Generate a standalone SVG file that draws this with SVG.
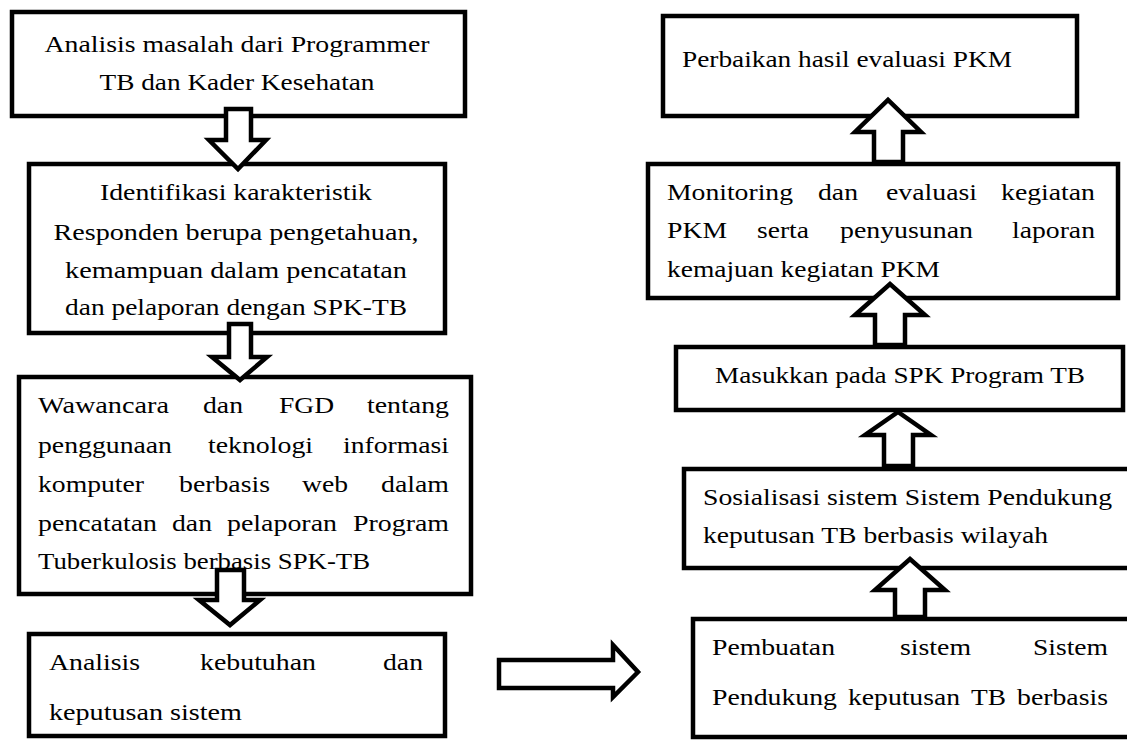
<svg xmlns="http://www.w3.org/2000/svg" width="1127" height="740" viewBox="0 0 1127 740">
<style>
.box{fill:#fff;stroke:#000;stroke-width:4.5}
.arr{fill:#fff;stroke:#000;stroke-width:4.5;stroke-linejoin:miter}
text{font-family:"Liberation Serif","Times New Roman",serif;font-size:24px;fill:#000}
.c{text-anchor:middle}
</style>
<rect width="1127" height="740" fill="#fff"/>
<g id="n1"><rect class="box" x="12" y="12" width="453" height="104"/>
<text class="c" x="237" y="52" textLength="385" lengthAdjust="spacingAndGlyphs">Analisis masalah dari Programmer</text>
<text class="c" x="237" y="90" textLength="275" lengthAdjust="spacingAndGlyphs">TB dan Kader Kesehatan</text></g>
<g id="n2"><rect class="box" x="29" y="164" width="416" height="169"/>
<text class="c" x="236" y="200" textLength="272" lengthAdjust="spacingAndGlyphs">Identifikasi karakteristik</text>
<text class="c" x="236" y="240" textLength="365" lengthAdjust="spacingAndGlyphs">Responden berupa pengetahuan,</text>
<text class="c" x="236" y="278" textLength="342" lengthAdjust="spacingAndGlyphs">kemampuan dalam pencatatan</text>
<text class="c" x="236" y="315" textLength="342" lengthAdjust="spacingAndGlyphs">dan pelaporan dengan SPK-TB</text></g>
<g id="n3"><rect class="box" x="19" y="377" width="452" height="217"/>
<text x="38" y="413" textLength="131" lengthAdjust="spacingAndGlyphs">Wawancara</text>
<text x="203" y="413" textLength="40" lengthAdjust="spacingAndGlyphs">dan</text>
<text x="279" y="413" textLength="55" lengthAdjust="spacingAndGlyphs">FGD</text>
<text x="367" y="413" textLength="82" lengthAdjust="spacingAndGlyphs">tentang</text>
<text x="38" y="453" textLength="134" lengthAdjust="spacingAndGlyphs">penggunaan</text>
<text x="208" y="453" textLength="105" lengthAdjust="spacingAndGlyphs">teknologi</text>
<text x="343" y="453" textLength="106" lengthAdjust="spacingAndGlyphs">informasi</text>
<text x="38" y="492" textLength="106" lengthAdjust="spacingAndGlyphs">komputer</text>
<text x="179" y="492" textLength="91" lengthAdjust="spacingAndGlyphs">berbasis</text>
<text x="302" y="492" textLength="46" lengthAdjust="spacingAndGlyphs">web</text>
<text x="381" y="492" textLength="68" lengthAdjust="spacingAndGlyphs">dalam</text>
<text x="38" y="531" textLength="119" lengthAdjust="spacingAndGlyphs">pencatatan</text>
<text x="172" y="531" textLength="40" lengthAdjust="spacingAndGlyphs">dan</text>
<text x="227" y="531" textLength="110" lengthAdjust="spacingAndGlyphs">pelaporan</text>
<text x="353" y="531" textLength="96" lengthAdjust="spacingAndGlyphs">Program</text>
<text x="38" y="569" textLength="332" lengthAdjust="spacingAndGlyphs">Tuberkulosis berbasis SPK-TB</text></g>
<g id="n4"><rect class="box" x="29" y="634" width="416" height="102"/>
<text x="49" y="670" textLength="91" lengthAdjust="spacingAndGlyphs">Analisis</text>
<text x="200" y="670" textLength="116" lengthAdjust="spacingAndGlyphs">kebutuhan</text>
<text x="383" y="670" textLength="40" lengthAdjust="spacingAndGlyphs">dan</text>
<text x="49" y="720" textLength="193" lengthAdjust="spacingAndGlyphs">keputusan sistem</text></g>
<g id="r1"><rect class="box" x="663" y="16" width="414" height="100"/>
<text x="682" y="67" textLength="330" lengthAdjust="spacingAndGlyphs">Perbaikan hasil evaluasi PKM</text></g>
<g id="r2"><rect class="box" x="648" y="164" width="470" height="134"/>
<text x="667" y="200" textLength="126" lengthAdjust="spacingAndGlyphs">Monitoring</text>
<text x="818" y="200" textLength="40" lengthAdjust="spacingAndGlyphs">dan</text>
<text x="886" y="200" textLength="91" lengthAdjust="spacingAndGlyphs">evaluasi</text>
<text x="1001" y="200" textLength="94" lengthAdjust="spacingAndGlyphs">kegiatan</text>
<text x="667" y="238" textLength="60" lengthAdjust="spacingAndGlyphs">PKM</text>
<text x="757" y="238" textLength="52" lengthAdjust="spacingAndGlyphs">serta</text>
<text x="840" y="238" textLength="133" lengthAdjust="spacingAndGlyphs">penyusunan</text>
<text x="1012" y="238" textLength="83" lengthAdjust="spacingAndGlyphs">laporan</text>
<text x="667" y="277" textLength="273" lengthAdjust="spacingAndGlyphs">kemajuan kegiatan PKM</text></g>
<g id="r3"><rect class="box" x="676" y="347" width="447" height="63"/>
<text x="715" y="383" textLength="370" lengthAdjust="spacingAndGlyphs">Masukkan pada SPK Program TB</text></g>
<g id="r4"><rect class="box" x="684" y="469" width="460" height="99"/>
<text x="703" y="505" textLength="409" lengthAdjust="spacingAndGlyphs">Sosialisasi sistem Sistem Pendukung</text>
<text x="703" y="543" textLength="345" lengthAdjust="spacingAndGlyphs">keputusan TB berbasis wilayah</text></g>
<g id="r5"><rect class="box" x="693" y="619" width="460" height="118"/>
<text x="712" y="655" textLength="123" lengthAdjust="spacingAndGlyphs">Pembuatan</text>
<text x="900" y="655" textLength="71" lengthAdjust="spacingAndGlyphs">sistem</text>
<text x="1033" y="655" textLength="75" lengthAdjust="spacingAndGlyphs">Sistem</text>
<text x="712" y="705" textLength="125" lengthAdjust="spacingAndGlyphs">Pendukung</text>
<text x="848" y="705" textLength="112" lengthAdjust="spacingAndGlyphs">keputusan</text>
<text x="971" y="705" textLength="35" lengthAdjust="spacingAndGlyphs">TB</text>
<text x="1017" y="705" textLength="91" lengthAdjust="spacingAndGlyphs">berbasis</text></g>
<g id="connectors">
<polygon class="arr" points="226,109 251,109 251,140 266,140 238,169 209,140 226,140"/>
<polygon class="arr" points="229,324 251,324 251,357 267,357 240,380 212,357 229,357"/>
<polygon class="arr" points="217,570 244,570 244,600 260,600 230,625 199,600 217,600"/>
<polygon class="arr" points="499,660 613,660 613,645 638,672 613,697 613,688 499,688"/>
<polygon class="arr" points="874,162 903,162 903,132 921,132 888,100 855,132 874,132"/>
<polygon class="arr" points="875,345 905,345 905,315 925,315 890,284 855,315 875,315"/>
<polygon class="arr" points="884,466 913,466 913,435 931,435 898,412 865,435 884,435"/>
<polygon class="arr" points="895,617 925,617 925,590 945,590 910,559 875,590 895,590"/>
</g>
</svg>
